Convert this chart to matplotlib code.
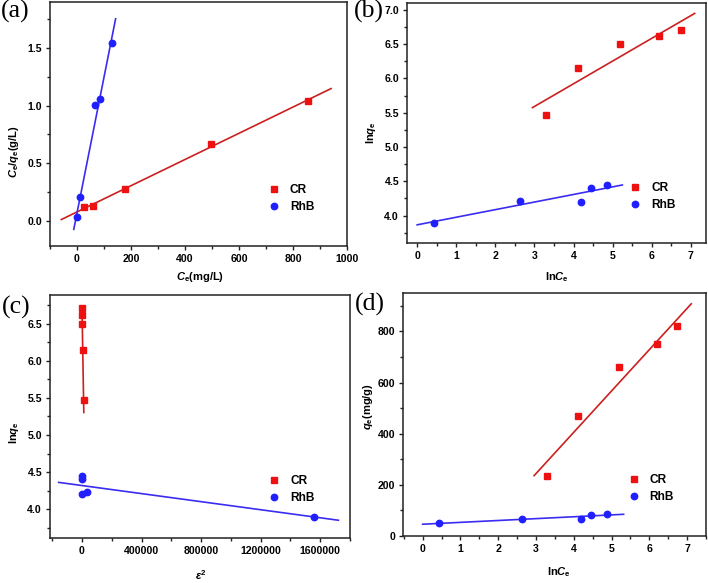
import numpy as np
import matplotlib
matplotlib.use("Agg")
import matplotlib.pyplot as plt
from matplotlib.ticker import MultipleLocator, FormatStrFormatter

plt.rcParams['font.family'] = ['Liberation Sans', 'DejaVu Sans']
plt.rcParams['font.weight'] = 'bold'
plt.rcParams['mathtext.fontset'] = 'custom'
plt.rcParams['mathtext.it'] = 'Liberation Sans:italic:bold'
plt.rcParams['mathtext.rm'] = 'Liberation Sans:bold'
plt.rcParams['mathtext.bf'] = 'Liberation Sans:bold'

# ---------------- data ----------------
series = ["CR", "RhB"]

# (a) Langmuir: Ce vs Ce/qe
a_cr_x = [26, 60, 178, 496, 854]
a_cr_y = [0.117, 0.13, 0.276, 0.664, 1.043]
a_rhb_x = [0, 12, 65, 84, 128]
a_rhb_y = [0.03, 0.203, 1.003, 1.058, 1.543]
a_cr_fit = (0.001139, 0.076, -58, 941)      # slope, intercept, x0, x1
a_rhb_fit = (0.0118, 0.0666, -12, 143)

# (b) Freundlich: lnCe vs lnqe
b_cr_x = [3.29, 4.12, 5.18, 6.19, 6.74]
b_cr_y = [5.468, 6.157, 6.496, 6.622, 6.709]
b_rhb_x = [0.44, 2.64, 4.19, 4.45, 4.86]
b_rhb_y = [3.898, 4.218, 4.203, 4.407, 4.442]
b_cr_fit = (0.331, 4.598, 2.95, 7.10)
b_rhb_fit = (0.1107, 3.865, 0.0, 5.25)

# (c) D-R: eps^2 vs lnqe
c_cr_x = [10600, 4830, 1900, 850, 30]
c_cr_y = [5.466, 6.15, 6.495, 6.62, 6.716]
c_rhb_x = [1559000, 33500, 3000, 1500, 500]
c_rhb_y = [3.896, 4.226, 4.199, 4.407, 4.443]
c_cr_fit = (-1.18e-4, 6.72, 0, 12000)
c_rhb_fit = (-2.72e-7, 4.318, -157000, 1722000)

# (d) Temkin: lnCe vs qe
d_cr_x = [3.28, 4.11, 5.19, 6.20, 6.73]
d_cr_y = [236, 470, 659, 750, 822]
d_rhb_x = [0.43, 2.63, 4.19, 4.46, 4.87]
d_rhb_y = [50, 68, 67, 81, 85]
d_cr_fit = (161.5, -240.5, 2.95, 7.11)
d_rhb_fit = (7.3, 46.0, 0.0, 5.32)

# ---------------- style ----------------
W, H = 708, 583
fig = plt.figure(figsize=(W / 100, H / 100), dpi=100)

def ax_at(l, r, t, b):
    return fig.add_axes([l / W, 1 - b / H, (r - l) / W, (b - t) / H])

RED = '#ee1111'
BLUE = '#1f1fff'
RED_LINE = '#cc1f1f'
BLUE_LINE = '#3a2cf0'
TICK_FS = 7.6
LBL_FS = 8.0

def panel(ax, crx, cry, rhbx, rhby, crfit, rhbfit, leg_xy):
    for (s, b, x0, x1), col in ((crfit, RED_LINE), (rhbfit, BLUE_LINE)):
        xs = np.array([x0, x1], dtype=float)
        ax.plot(xs, s * xs + b, color=col, lw=1.2, zorder=2)
    ax.plot(crx, cry, 's', color=RED, ms=4.2, mec=RED, label=series[0], zorder=3, ls='none')
    ax.plot(rhbx, rhby, 'o', color=BLUE, ms=4.6, mec=BLUE, label=series[1], zorder=3, ls='none')
    for sp in ax.spines.values():
        sp.set_linewidth(1.1)
        sp.set_color('#222222')
    ax.tick_params(which='both', direction='out', top=False, right=False,
                   labelsize=TICK_FS, width=1.0, color='#222222', pad=2.5)
    ax.tick_params(which='major', length=3.2)
    ax.tick_params(which='minor', length=2.0)
    ax.legend(frameon=False, loc='upper left', bbox_to_anchor=leg_xy,
              fontsize=8.6, handlelength=0.9, handletextpad=0.9,
              labelspacing=0.45, borderpad=0, borderaxespad=0, numpoints=1)

def labels(ax, xl, yl, xpos, ypos):
    ax.set_xlabel(xl, fontsize=LBL_FS, fontweight='bold')
    ax.set_ylabel(yl, fontsize=LBL_FS, fontweight='bold')
    ax.xaxis.set_label_coords(*xpos)
    ax.yaxis.set_label_coords(*ypos)
    for t in ax.get_xticklabels() + ax.get_yticklabels():
        t.set_fontweight('bold')

# (a)
axa = ax_at(50, 347, 2, 246)
panel(axa, a_cr_x, a_cr_y, a_rhb_x, a_rhb_y, a_cr_fit, a_rhb_fit, (0.735, 0.255))
axa.set_xlim(-100, 1000)
axa.set_ylim(-0.22, 1.9)
axa.xaxis.set_major_locator(MultipleLocator(200))
axa.xaxis.set_minor_locator(MultipleLocator(100))
axa.yaxis.set_major_locator(MultipleLocator(0.5))
axa.yaxis.set_minor_locator(MultipleLocator(0.25))
axa.yaxis.set_major_formatter(FormatStrFormatter('%.1f'))
labels(axa, r'$C_\mathrm{e}$(mg/L)', r'$C_\mathrm{e}/q_\mathrm{e}$(g/L)',
       (0.505, -0.1), (-0.098, 0.385))

# (b)
axb = ax_at(407, 706, 3, 243)
panel(axb, b_cr_x, b_cr_y, b_rhb_x, b_rhb_y, b_cr_fit, b_rhb_fit, (0.745, 0.255))
axb.set_xlim(-0.26, 7.39)
axb.set_ylim(3.6, 7.1)
axb.xaxis.set_major_locator(MultipleLocator(1))
axb.xaxis.set_minor_locator(MultipleLocator(0.5))
axb.yaxis.set_major_locator(MultipleLocator(0.5))
axb.yaxis.set_minor_locator(MultipleLocator(0.25))
axb.yaxis.set_major_formatter(FormatStrFormatter('%.1f'))
labels(axb, r'ln$C_\mathrm{e}$', r'ln$q_\mathrm{e}$', (0.5, -0.115), (-0.097, 0.458))

# (c)
axc = ax_at(50, 350, 295, 538)
panel(axc, c_cr_x, c_cr_y, c_rhb_x, c_rhb_y, c_cr_fit, c_rhb_fit, (0.73, 0.26))
axc.set_xlim(-215000, 1800000)
axc.set_ylim(3.61, 6.89)
axc.xaxis.set_major_locator(MultipleLocator(400000))
axc.xaxis.set_minor_locator(MultipleLocator(200000))
axc.xaxis.set_major_formatter(FormatStrFormatter('%d'))
axc.yaxis.set_major_locator(MultipleLocator(0.5))
axc.yaxis.set_minor_locator(MultipleLocator(0.25))
axc.yaxis.set_major_formatter(FormatStrFormatter('%.1f'))
labels(axc, r'$\varepsilon^2$', r'ln$q_\mathrm{e}$', (0.503, -0.125), (-0.097, 0.432))

# (d)
axd = ax_at(403, 706, 293, 536)
panel(axd, d_cr_x, d_cr_y, d_rhb_x, d_rhb_y, d_cr_fit, d_rhb_fit, (0.743, 0.255))
axd.set_xlim(-0.52, 7.5)
axd.set_ylim(0, 950)
axd.xaxis.set_major_locator(MultipleLocator(1))
axd.xaxis.set_minor_locator(MultipleLocator(0.5))
axd.yaxis.set_major_locator(MultipleLocator(200))
axd.yaxis.set_minor_locator(MultipleLocator(100))
labels(axd, r'ln$C_\mathrm{e}$', r'$q_\mathrm{e}$(mg/g)', (0.515, -0.122), (-0.092, 0.532))

# panel letters
for txt, x, y in (("(a)", 1, 0), ("(b)", 354, 0), ("(c)", 2, 296), ("(d)", 355, 293)):
    fig.text(x / W, 1 - y / H, txt, family='Liberation Serif', fontsize=18.5,
             fontweight='normal', ha='left', va='top')

fig.savefig('out.png', dpi=100)
